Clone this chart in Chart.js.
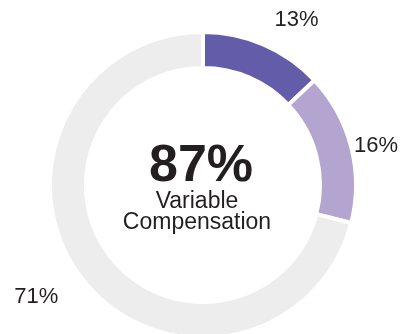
<!DOCTYPE html>
<html lang="en">
<head>
    <meta charset="UTF-8">
    <title>Variable Compensation</title>
    <script src="https://cdn.jsdelivr.net/npm/chart.js"></script>
    <style>
        html, body { margin: 0; padding: 0; background: #fff; }
        #wrap { width: 400px; height: 334px; position: relative; }
    </style>
</head>
<body>
    <div id="wrap">
        <canvas id="myChart"></canvas>
    </div>

    <script>
        // 데이터
        const categories = ['Segment A', 'Segment B', 'Other'];
        const values = [13, 16, 71];
        const valueLabels = ['13%', '16%', '71%'];
        const centerValue = '87%';
        const centerLines = ['Variable', 'Compensation'];

        const colors = ['#625CA9', '#B3A5D0', '#EDEDED'];
        const textColor = '#231F20';
        const fontFamily = '"Liberation Sans", Arial, Helvetica, sans-serif';

        // 라벨 바깥쪽 거리 (외곽 반지름 기준)
        const labelGap = [27, 3, 30];

        // 가운데 글자 + 바깥 라벨
        const textPlugin = {
            id: 'textPlugin',
            afterDatasetsDraw(chart) {
                const ctx = chart.ctx;
                const arcs = chart.getDatasetMeta(0).data;
                const cx = arcs[0].x;
                const cy = arcs[0].y;

                ctx.save();
                ctx.fillStyle = textColor;
                ctx.textAlign = 'center';
                ctx.textBaseline = 'alphabetic';
                ctx.font = 'bold 52px ' + fontFamily;
                ctx.fillText(centerValue, cx - 2, cy - 4);
                ctx.font = '23px ' + fontFamily;
                ctx.fillText(centerLines[0], cx - 6, cy + 23);
                ctx.fillText(centerLines[1], cx - 6, cy + 44);

                ctx.font = '22px ' + fontFamily;
                ctx.textBaseline = 'middle';
                arcs.forEach((arc, i) => {
                    const mid = (arc.startAngle + arc.endAngle) / 2;
                    const r = arc.outerRadius + labelGap[i];
                    const x = arc.x + Math.cos(mid) * r;
                    const y = arc.y + Math.sin(mid) * r;
                    ctx.textAlign = Math.cos(mid) >= 0 ? 'left' : 'right';
                    ctx.fillText(valueLabels[i], x, y);
                });
                ctx.restore();
            }
        };

        const ctx = document.getElementById('myChart').getContext('2d');
        const myChart = new Chart(ctx, {
            type: 'doughnut',
            data: {
                labels: categories,
                datasets: [{
                    data: values,
                    backgroundColor: colors,
                    borderColor: '#ffffff',
                    borderWidth: 4,
                    hoverOffset: 0,
                    clip: false,
                }],
            },
            options: {
                responsive: true,
                maintainAspectRatio: false,
                animation: false,
                radius: 153,
                cutout: '76.5%',
                layout: {
                    padding: { left: 6, right: 0, top: 36, bottom: 0 },
                },
                plugins: {
                    legend: { display: false },
                    tooltip: { enabled: false },
                    title: { display: false },
                },
            },
            plugins: [textPlugin],
        });
    </script>
</body>
</html>
